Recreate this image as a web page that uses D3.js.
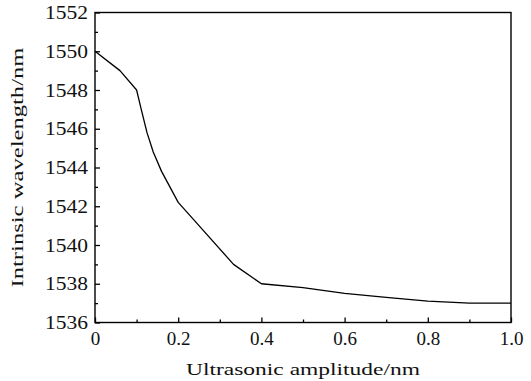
<!DOCTYPE html>
<html>
<head>
<meta charset="utf-8">
<script src="https://cdn.jsdelivr.net/npm/d3@7"></script>
<style>
  body { margin: 0; background: #fff; }
</style>
</head>
<body>
<div id="chart"></div>
<script>
// values
var amplitude  = [0, 0.06, 0.1, 0.11, 0.125, 0.14, 0.16, 0.2, 0.25, 0.333, 0.4, 0.5, 0.6, 0.7, 0.8, 0.9, 1.0];
var wavelength = [1550, 1549, 1548, 1547.1, 1545.8, 1544.8, 1543.8, 1542.2, 1541, 1539, 1538, 1537.8, 1537.5, 1537.3, 1537.1, 1537, 1537];
var xTicks = [0, 0.2, 0.4, 0.6, 0.8, 1.0];
var yTicks = [1536, 1538, 1540, 1542, 1544, 1546, 1548, 1550, 1552];
var xLabel = 'Ultrasonic amplitude/nm';
var yLabel = 'Intrinsic wavelength/nm';

var W = 531, H = 381;
var m = {left: 95, right: 20, top: 12.5, bottom: 58.5};
var w = W - m.left - m.right, h = H - m.top - m.bottom;
var serif = '"Liberation Serif", "Times New Roman", serif';

var x = d3.scaleLinear().domain([0, 1]).range([0, w]);
var y = d3.scaleLinear().domain([1536, 1552]).range([h, 0]);

var svg = d3.select('#chart').append('svg')
    .attr('width', W)
    .attr('height', H)
  .append('g')
    .attr('transform', 'translate(' + m.left + ',' + m.top + ')');

// minor ticks (inward)
svg.append('g')
    .attr('transform', 'translate(0,' + h + ')')
    .call(d3.axisBottom(x).tickValues(d3.range(0.1, 1, 0.2)).tickSize(-3).tickFormat(''))
    .call(function(g) { g.select('.domain').remove(); });
svg.append('g')
    .call(d3.axisLeft(y).tickValues(d3.range(1537, 1552, 2)).tickSize(-3).tickFormat(''))
    .call(function(g) { g.select('.domain').remove(); });

// major ticks
var xAxis = svg.append('g')
    .attr('transform', 'translate(0,' + h + ')')
    .call(d3.axisBottom(x).tickValues(xTicks).tickSize(-5).tickPadding(9)
      .tickFormat(function(d) { return d === 0 ? '0' : d3.format('.1f')(d); }));
var yAxis = svg.append('g')
    .call(d3.axisLeft(y).tickValues(yTicks).tickSize(-5).tickPadding(7).tickFormat(d3.format('d')));

[xAxis, yAxis].forEach(function(a) {
  a.select('.domain').remove();
  a.attr('font-family', serif);
  a.selectAll('text').style('font-size', '19px').style('font-family', serif)
    .attr('fill', '#111').attr('textLength', null);
});
yAxis.selectAll('.tick text').attr('textLength', 43).attr('lengthAdjust', 'spacingAndGlyphs');
svg.selectAll('.tick line').attr('stroke', '#000').attr('stroke-width', 1.3);

// frame
svg.append('rect')
    .attr('width', w)
    .attr('height', h)
    .attr('fill', 'none')
    .attr('stroke', '#000')
    .attr('stroke-width', 1.4);

var line = d3.line()
    .x(function(d, i) { return x(amplitude[i]); })
    .y(function(d) { return y(d); });

svg.append('path')
    .datum(wavelength)
    .attr('d', line)
    .attr('fill', 'none')
    .attr('stroke', '#000')
    .attr('stroke-width', 1.3)
    .attr('stroke-linejoin', 'round');

svg.append('text')
    .attr('x', w / 2)
    .attr('y', h + 52)
    .attr('text-anchor', 'middle')
    .attr('textLength', 234)
    .attr('lengthAdjust', 'spacingAndGlyphs')
    .attr('fill', '#111')
    .style('font-family', serif)
    .style('font-size', '17px')
    .text(xLabel);

svg.append('text')
    .attr('transform', 'translate(' + (-72) + ',' + (h / 2) + ') rotate(-90)')
    .attr('text-anchor', 'middle')
    .attr('textLength', 240)
    .attr('lengthAdjust', 'spacingAndGlyphs')
    .attr('fill', '#111')
    .style('font-family', serif)
    .style('font-size', '17px')
    .text(yLabel);
</script>
</body>
</html>
